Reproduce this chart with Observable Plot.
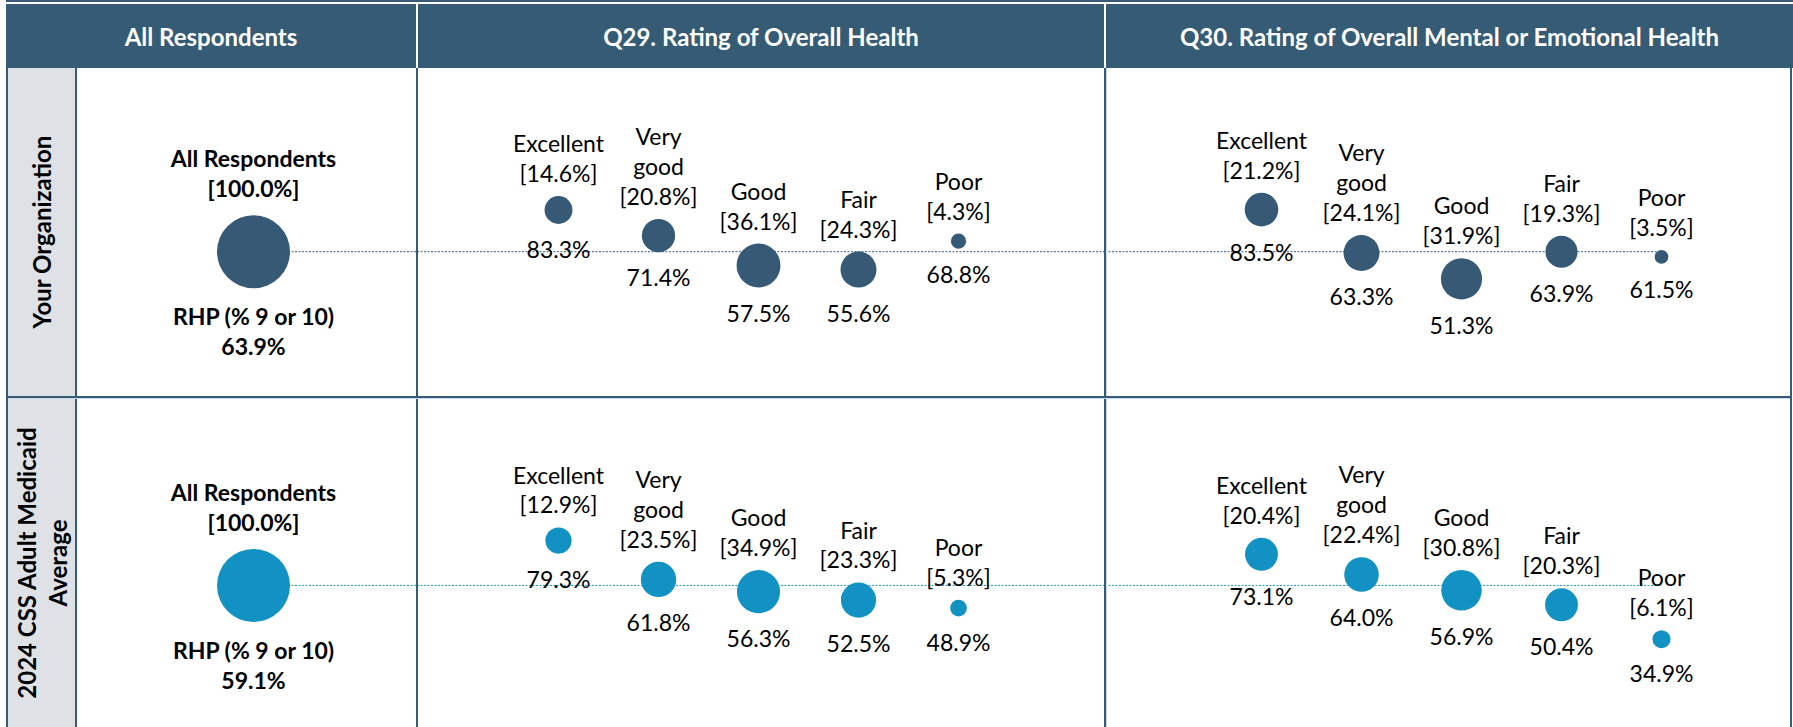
<!DOCTYPE html>
<html><head><meta charset="utf-8">
<script src="https://cdn.jsdelivr.net/npm/d3@7"></script>
<script src="https://cdn.jsdelivr.net/npm/@observablehq/plot@0.6"></script>
<style>
body{margin:0;background:#fff;font-family:Lato,"Noto Sans",sans-serif;}
#root{position:relative;width:1793px;height:727px;overflow:hidden;}
.hdr{position:absolute;top:4px;height:64px;background:#355b75;color:#fff;font-weight:700;font-size:24px;display:flex;align-items:center;justify-content:center;white-space:nowrap;}
.ln{position:absolute;background:#355b75;}
.lt{position:absolute;background:#c9dcec;}
.rowlab{position:absolute;left:8px;width:67px;background:#dee2e6;}
.rowlab span{position:absolute;left:50%;top:50%;transform:translate(-50%,-50%) rotate(-90deg);white-space:pre;text-align:center;font-weight:700;font-size:24px;line-height:1.3;color:#000;}
.cell{position:absolute;}
.cell svg{overflow:visible;}
</style></head><body><div id="root"></div>
<script>
// ---- data ----
const columnHeaders = ["All Respondents", "Q29. Rating of Overall Health", "Q30. Rating of Overall Mental or Emotional Health"];
const rowLabels = ["Your Organization", "2024 CSS Adult Medicaid\nAverage"];
const categories = ["Excellent", "Very good", "Good", "Fair", "Poor"];
const overallLabel = "All Respondents";
const overallShare = [100.0, 100.0];
const overallRHP = [63.9, 59.1];
const q29Share = [[14.6, 20.8, 36.1, 24.3, 4.3], [12.9, 23.5, 34.9, 23.3, 5.3]];
const q29RHP   = [[83.3, 71.4, 57.5, 55.6, 68.8], [79.3, 61.8, 56.3, 52.5, 48.9]];
const q30Share = [[21.2, 24.1, 31.9, 19.3, 3.5], [20.4, 22.4, 30.8, 20.3, 6.1]];
const q30RHP   = [[83.5, 63.3, 51.3, 63.9, 61.5], [73.1, 64.0, 56.9, 50.4, 34.9]];

// ---- layout / style ----
const root = document.getElementById("root");
const rowTops = [68, 399];
const rowH = 328;
const yRanges = [[320.6, 105.6], [317.3, 95]];
const bubbleColors = ["#365a75", "#1192c2"];
const lineColors = ["#365a75", "#1a96c8"];
const cells = [
  {left: 77, width: 340},
  {left: 417, width: 688},
  {left: 1105, width: 685}
];
const rOpts = {type: "sqrt", domain: [0, 100], range: [0, 36.5]};
const rScale = Plot.scale({r: rOpts});
const FONT = "Lato, 'Noto Sans', sans-serif";

function add(cls, style, html) {
  const d = document.createElement("div");
  d.className = cls;
  Object.assign(d.style, style);
  if (html != null) d.innerHTML = html;
  root.appendChild(d);
  return d;
}
const fmt = v => v.toFixed(1) + "%";

function labelMarks(data, opts) {
  const marks = [];
  for (const d of data) {
    const r = rScale.apply(d.share);
    marks.push(Plot.text([d], {
      x: "cat", y: "rhp", text: "upper", lineAnchor: "bottom",
      dy: -(r + opts.gapUp), fontSize: opts.fontSize, fontWeight: opts.fontWeight,
      lineHeight: opts.lineHeight, fill: "#000"
    }));
    marks.push(Plot.text([d], {
      x: "cat", y: "rhp", text: "lower", lineAnchor: "top",
      dy: r + opts.gapDown, fontSize: opts.fontSize, fontWeight: opts.fontWeight,
      lineHeight: opts.lineHeight, fill: "#000"
    }));
  }
  return marks;
}

function makeCell(row, col) {
  const cell = cells[col];
  const base = overallRHP[row];
  const ruleStyle = {stroke: lineColors[row], strokeWidth: 1, strokeDasharray: "2,1.5"};
  let data, xDomain, xRange, textOpts, margins = {marginLeft: 0, marginRight: 0};
  if (col === 0) {
    data = [{cat: overallLabel, share: overallShare[row], rhp: overallRHP[row],
      upper: overallLabel + "\n[" + fmt(overallShare[row]) + "]",
      lower: "RHP (% 9 or 10)\n" + fmt(overallRHP[row])}];
    xDomain = [overallLabel];
    xRange = [176, 176];
    margins = {marginLeft: 176, marginRight: 0};
    textOpts = {fontSize: 23, fontWeight: 700, lineHeight: 1.3, gapUp: 18, gapDown: 16};
  } else {
    const share = col === 1 ? q29Share[row] : q30Share[row];
    const rhp = col === 1 ? q29RHP[row] : q30RHP[row];
    data = categories.map((c, i) => ({cat: c, share: share[i], rhp: rhp[i],
      upper: c.replace(" ", "\n") + "\n[" + fmt(share[i]) + "]",
      lower: fmt(rhp[i])}));
    xDomain = categories;
    xRange = col === 1 ? [139, 542] : [155, 557];
    // Q30 baseline stops at the last category
    margins = col === 1 ? {marginLeft: 0, marginRight: 0} : {marginLeft: 0, marginRight: cell.width - 557};
    textOpts = {fontSize: 23, fontWeight: 400, lineHeight: 1.3, gapUp: 14, gapDown: 13};
  }
  const svg = Plot.plot({
    width: cell.width, height: rowH,
    marginTop: 0, marginBottom: 0, ...margins,
    x: {type: "point", domain: xDomain, range: xRange, padding: 0, axis: null},
    y: {domain: [0, 100], range: yRanges[row], axis: null},
    r: rOpts,
    style: {fontFamily: FONT, background: "transparent", overflow: "visible"},
    marks: [
      Plot.ruleY([base], ruleStyle),
      Plot.dot(data, {x: "cat", y: "rhp", r: "share", fill: bubbleColors[row], stroke: "none"}),
      ...labelMarks(data, textOpts)
    ]
  });
  const div = add("cell", {left: cell.left + "px", top: rowTops[row] + "px", width: cell.width + "px", height: rowH + "px"});
  div.appendChild(svg);
}

for (let r = 0; r < 2; r++) for (let c = 0; c < 3; c++) makeCell(r, c);

// header
add("ln", {left: "6px", top: "0px", width: "1787px", height: "2px"});
const hdrSpans = [[6, 416], [418, 1104], [1106, 1793]];
columnHeaders.forEach((t, i) => {
  add("hdr", {left: hdrSpans[i][0] + "px", width: (hdrSpans[i][1] - hdrSpans[i][0]) + "px"}, t);
});
// row labels
rowLabels.forEach((t, i) => {
  const top = rowTops[i];
  const h = i === 0 ? 396 - 68 : 727 - 399;
  const d = add("rowlab", {top: top + "px", height: h + "px"});
  const s = document.createElement("span");
  s.textContent = t;
  d.appendChild(s);
});
// grid lines
add("ln", {left: "6px", top: "68px", width: "2px", height: "659px"});
add("ln", {left: "75px", top: "68px", width: "2px", height: "659px"});
add("ln", {left: "416px", top: "68px", width: "2px", height: "659px"});
add("ln", {left: "1104px", top: "68px", width: "2px", height: "659px"});
add("lt", {left: "1106px", top: "68px", width: "1px", height: "659px"});
add("ln", {left: "1790px", top: "68px", width: "2px", height: "659px"});
add("ln", {left: "6px", top: "396px", width: "1786px", height: "2px"});
add("lt", {left: "8px", top: "398px", width: "1782px", height: "1px"});
</script></body></html>
